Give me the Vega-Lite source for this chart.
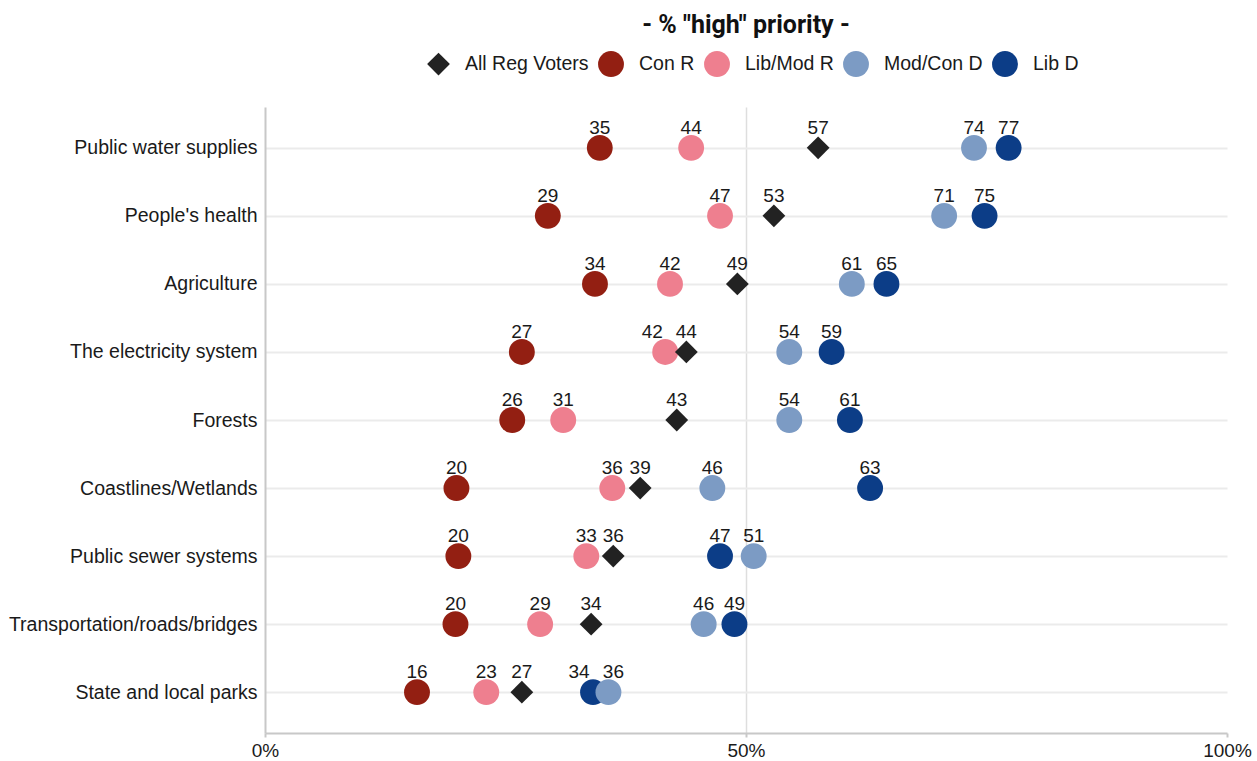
{
  "$schema": "https://vega.github.io/schema/vega-lite/v6.json",
  "autosize": "none",
  "width": 962,
  "height": 626,
  "padding": {"left": 265, "top": 107, "right": 30, "bottom": 28},
  "background": "white",
  "config": {
    "view": {"stroke": null},
    "font": "Liberation Sans"
  },
  "title": {
    "text": "- % \"high\" priority -",
    "font": "Roboto",
    "fontWeight": "bold",
    "fontSize": 25,
    "color": "#111111",
    "anchor": "middle",
    "frame": "group",
    "offset": 12
  },
  "data": {
    "values": [
      {"category": "Public water supplies", "group": "Con R", "value": 34.8, "label": "35"},
      {"category": "People's health", "group": "Con R", "value": 29.4, "label": "29"},
      {"category": "Agriculture", "group": "Con R", "value": 34.3, "label": "34"},
      {"category": "The electricity system", "group": "Con R", "value": 26.7, "label": "27"},
      {"category": "Forests", "group": "Con R", "value": 25.7, "label": "26"},
      {"category": "Coastlines/Wetlands", "group": "Con R", "value": 19.9, "label": "20"},
      {"category": "Public sewer systems", "group": "Con R", "value": 20.1, "label": "20"},
      {"category": "Transportation/roads/bridges", "group": "Con R", "value": 19.8, "label": "20"},
      {"category": "State and local parks", "group": "Con R", "value": 15.8, "label": "16"},

      {"category": "Public water supplies", "group": "Lib/Mod R", "value": 44.3, "label": "44"},
      {"category": "People's health", "group": "Lib/Mod R", "value": 47.3, "label": "47"},
      {"category": "Agriculture", "group": "Lib/Mod R", "value": 42.1, "label": "42"},
      {"category": "The electricity system", "group": "Lib/Mod R", "value": 41.6, "label": "42"},
      {"category": "Forests", "group": "Lib/Mod R", "value": 31.0, "label": "31"},
      {"category": "Coastlines/Wetlands", "group": "Lib/Mod R", "value": 36.1, "label": "36"},
      {"category": "Public sewer systems", "group": "Lib/Mod R", "value": 33.4, "label": "33"},
      {"category": "Transportation/roads/bridges", "group": "Lib/Mod R", "value": 28.6, "label": "29"},
      {"category": "State and local parks", "group": "Lib/Mod R", "value": 23.0, "label": "23"},

      {"category": "Public water supplies", "group": "Lib D", "value": 77.3, "label": "77"},
      {"category": "People's health", "group": "Lib D", "value": 74.8, "label": "75"},
      {"category": "Agriculture", "group": "Lib D", "value": 64.6, "label": "65"},
      {"category": "The electricity system", "group": "Lib D", "value": 58.9, "label": "59"},
      {"category": "Forests", "group": "Lib D", "value": 60.8, "label": "61"},
      {"category": "Coastlines/Wetlands", "group": "Lib D", "value": 62.9, "label": "63"},
      {"category": "Public sewer systems", "group": "Lib D", "value": 47.3, "label": "47"},
      {"category": "Transportation/roads/bridges", "group": "Lib D", "value": 48.8, "label": "49"},
      {"category": "State and local parks", "group": "Lib D", "value": 34.1, "label": "34"},

      {"category": "Public water supplies", "group": "Mod/Con D", "value": 73.7, "label": "74"},
      {"category": "People's health", "group": "Mod/Con D", "value": 70.6, "label": "71"},
      {"category": "Agriculture", "group": "Mod/Con D", "value": 61.0, "label": "61"},
      {"category": "The electricity system", "group": "Mod/Con D", "value": 54.5, "label": "54"},
      {"category": "Forests", "group": "Mod/Con D", "value": 54.5, "label": "54"},
      {"category": "Coastlines/Wetlands", "group": "Mod/Con D", "value": 46.5, "label": "46"},
      {"category": "Public sewer systems", "group": "Mod/Con D", "value": 50.8, "label": "51"},
      {"category": "Transportation/roads/bridges", "group": "Mod/Con D", "value": 45.6, "label": "46"},
      {"category": "State and local parks", "group": "Mod/Con D", "value": 35.7, "label": "36"},

      {"category": "Public water supplies", "group": "All Reg Voters", "value": 57.5, "label": "57"},
      {"category": "People's health", "group": "All Reg Voters", "value": 52.9, "label": "53"},
      {"category": "Agriculture", "group": "All Reg Voters", "value": 49.1, "label": "49"},
      {"category": "The electricity system", "group": "All Reg Voters", "value": 43.8, "label": "44"},
      {"category": "Forests", "group": "All Reg Voters", "value": 42.8, "label": "43"},
      {"category": "Coastlines/Wetlands", "group": "All Reg Voters", "value": 39.0, "label": "39"},
      {"category": "Public sewer systems", "group": "All Reg Voters", "value": 36.2, "label": "36"},
      {"category": "Transportation/roads/bridges", "group": "All Reg Voters", "value": 33.9, "label": "34"},
      {"category": "State and local parks", "group": "All Reg Voters", "value": 26.7, "label": "27"}
    ]
  },
  "encoding": {
    "y": {
      "field": "category",
      "type": "nominal",
      "sort": ["Public water supplies", "People's health", "Agriculture", "The electricity system", "Forests", "Coastlines/Wetlands", "Public sewer systems", "Transportation/roads/bridges", "State and local parks"],
      "scale": {"type": "point", "padding": 0.6},
      "axis": {
        "title": null,
        "domain": true,
        "domainColor": "#c8c8c8",
        "domainWidth": 2,
        "ticks": false,
        "grid": true,
        "gridColor": "#ebebeb",
        "gridWidth": 2,
        "labelFont": "Liberation Sans",
        "labelFontSize": 19.5,
        "labelColor": "#1a1a1a",
        "labelPadding": 8,
        "labelLimit": 400
      }
    },
    "x": {
      "field": "value",
      "type": "quantitative",
      "scale": {"domain": [0, 100], "nice": false, "zero": true},
      "axis": {
        "title": null,
        "values": [0, 50, 100],
        "format": ".0f",
        "labelExpr": "datum.value + '%'",
        "domainColor": "#c8c8c8",
        "domainWidth": 2,
        "tickColor": "#c8c8c8",
        "tickWidth": 2,
        "tickSize": 4,
        "grid": true,
        "gridColor": "#dedede",
        "gridWidth": 1.5,
        "gridOpacity": {"condition": {"test": "datum.value == 50", "value": 1}, "value": 0},
        "labelFont": "Liberation Sans",
        "labelFontSize": 19,
        "labelColor": "#1a1a1a",
        "labelPadding": 4,
        "labelFlush": false
      }
    }
  },
  "layer": [
    {
      "mark": {"type": "point", "filled": true, "opacity": 1, "strokeWidth": 0},
      "encoding": {
        "color": {
          "field": "group",
          "type": "nominal",
          "scale": {
            "domain": ["All Reg Voters", "Con R", "Lib/Mod R", "Mod/Con D", "Lib D"],
            "range": ["#222222", "#931F12", "#EE7F8F", "#7C9BC4", "#0C3D87"]
          },
          "legend": {
            "title": null,
            "orient": "none",
            "direction": "horizontal",
            "legendX": 161,
            "legendY": -57,
            "symbolSize": 620,
            "symbolType": "circle",
            "labelFont": "Liberation Sans",
            "labelFontSize": 19.5,
            "labelColor": "#1a1a1a",
            "labelOffset": 14,
            "columnPadding": 8
          }
        },
        "shape": {
          "field": "group",
          "type": "nominal",
          "scale": {
            "domain": ["All Reg Voters", "Con R", "Lib/Mod R", "Mod/Con D", "Lib D"],
            "range": ["diamond", "circle", "circle", "circle", "circle"]
          }
        },
        "size": {
          "field": "group",
          "type": "nominal",
          "scale": {
            "type": "ordinal",
            "domain": ["All Reg Voters", "Con R", "Lib/Mod R", "Mod/Con D", "Lib D"],
            "range": [520, 670, 670, 670, 670]
          }
        }
      }
    },
    {
      "mark": {
        "type": "text",
        "font": "Liberation Sans",
        "fontSize": 19,
        "color": "#1a1a1a",
        "baseline": "alphabetic",
        "align": "center",
        "dy": -14,
        "dx": {"expr": "datum.category == 'The electricity system' && datum.group == 'Lib/Mod R' ? -13 : (datum.category == 'State and local parks' && datum.group == 'Lib D' ? -14 : (datum.category == 'State and local parks' && datum.group == 'Mod/Con D' ? 5 : 0))"}
      },
      "encoding": {
        "text": {"field": "label"}
      }
    }
  ]
}
